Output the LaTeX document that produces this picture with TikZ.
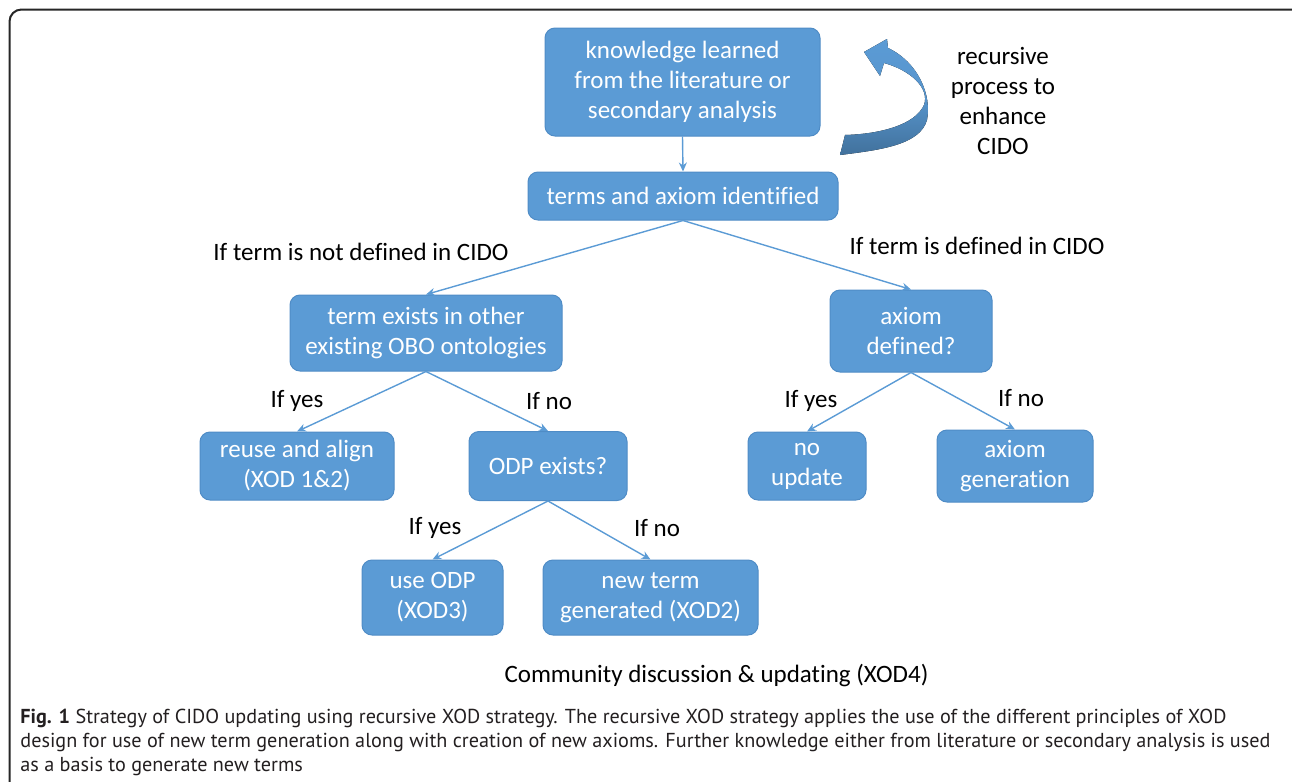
\documentclass[tikz,border=0pt]{standalone}
\usepackage{fontspec}
\setmainfont{Carlito}[Ligatures=NoCommon]
\newfontfamily\capfont{PT Sans}
\usetikzlibrary{arrows.meta}
\definecolor{boxblue}{HTML}{5B9BD5}
\definecolor{boxedge}{HTML}{4F8CC6}
\definecolor{linkblue}{HTML}{5B9BD5}
\definecolor{twistblue}{HTML}{41719C}
\definecolor{capgray}{HTML}{231F20}

\tikzset{
  stepbox/.style={draw=boxedge, line width=0.5pt, fill=boxblue, text=white, rounded corners=5pt,
    align=center, inner sep=0pt, font=\fontsize{12.5}{15}\selectfont},
  link/.style={draw=linkblue, line width=0.7pt, -{Stealth[length=4.5pt,width=4pt]}},
  cond/.style={font=\fontsize{12.5}{15}\selectfont, text=black, inner sep=0pt}
}

\begin{document}
\begin{tikzpicture}[x=0.5pt, y=-0.5pt]
  \useasboundingbox (0,0) rectangle (1292,782);
  \clip (0,0) rectangle (1292,782);

  % FRAME
  \draw[line width=1pt, black!85, rounded corners=6pt] (9.5,9.5) rectangle (1306,810);

  % BOXES
  \node[stepbox, minimum width=137.5pt, minimum height=54pt] (know) at (682.5,82) {knowledge learned\\from the literature or\\secondary analysis};
  \node[stepbox, minimum width=155pt, minimum height=24pt] (terms) at (683,196) {terms and axiom identified};
  \node[stepbox, minimum width=136pt, minimum height=38pt] (exists) at (426,333) {term exists in other\\existing OBO ontologies};
  \node[stepbox, minimum width=81pt, minimum height=41pt] (axiom) at (911,331) {axiom\\defined?};
  \node[stepbox, minimum width=97pt, minimum height=34pt] (reuse) at (297,466) {reuse and align\\(XOD 1\&2)};
  \node[stepbox, minimum width=79pt, minimum height=34.5pt] (odp) at (548,466) {ODP exists?};
  \node[stepbox, minimum width=59pt, minimum height=34pt] (noupd) at (807,466) {no\\update};
  \node[stepbox, minimum width=78pt, minimum height=36pt] (axgen) at (1015,466) {axiom\\generation};
  \node[stepbox, minimum width=70.5pt, minimum height=37.5pt] (useodp) at (432.5,597.5) {use ODP\\(XOD3)};
  \node[stepbox, minimum width=107.5pt, minimum height=37.5pt] (newterm) at (650.5,597.5) {new term\\generated (XOD2)};

  % CONNECTORS
  \foreach \a/\b in {know/terms, terms/exists, terms/axiom, exists/reuse, exists/odp,
                     axiom/noupd, axiom/axgen, odp/useodp, odp/newterm}
    \draw[link] (\a.south) -- (\b.north);

  % CONDITIONS
  \node[cond] (notdef) at (361,252) {If term is not defined in CIDO};
  \node[cond] (isdef) at (977,246) {If term is defined in CIDO};
  \node[cond] (yesa) at (297,401) {If yes};
  \node[cond] (noa) at (549,401) {If no};
  \node[cond] (yesb) at (811,401) {If yes};
  \node[cond] (nob) at (1021,398) {If no};
  \node[cond] (yesc) at (435,528) {If yes};
  \node[cond] (noc) at (657,528) {If no};

  % RECURSIVE ARROW
  \fill[top color=boxblue, bottom color=twistblue, middle color=boxblue!85!twistblue]
    (864,52) -- (887,39) -- (888,48) .. controls (918,62) and (932,95) .. (927,120)
    .. controls (920,145) and (880,150) .. (840,155) -- (845,135)
    .. controls (880,134) and (915,125) .. (924,105)
    .. controls (930,88) and (910,70) .. (884,63) -- (880,76) -- cycle;
  \node[cond, align=center] (recur) at (1003,101) {recursive\\process to\\enhance\\CIDO};

  % COMMUNITY
  \node[cond] (community) at (716.5,675) {Community discussion \& updating (XOD4)};

  % CAPTION
  \node[anchor=north west, align=left, inner sep=0pt, text=capgray,
        font=\capfont\fontsize{10.1}{12}\selectfont] (caption) at (20,709)
    {\textbf{Fig. 1} Strategy of CIDO updating using recursive XOD strategy. The recursive XOD strategy applies the use of the different principles of XOD\\
     design for use of new term generation along with creation of new axioms. Further knowledge either from literature or secondary analysis is used\\
     as a basis to generate new terms};
\end{tikzpicture}
\end{document}
